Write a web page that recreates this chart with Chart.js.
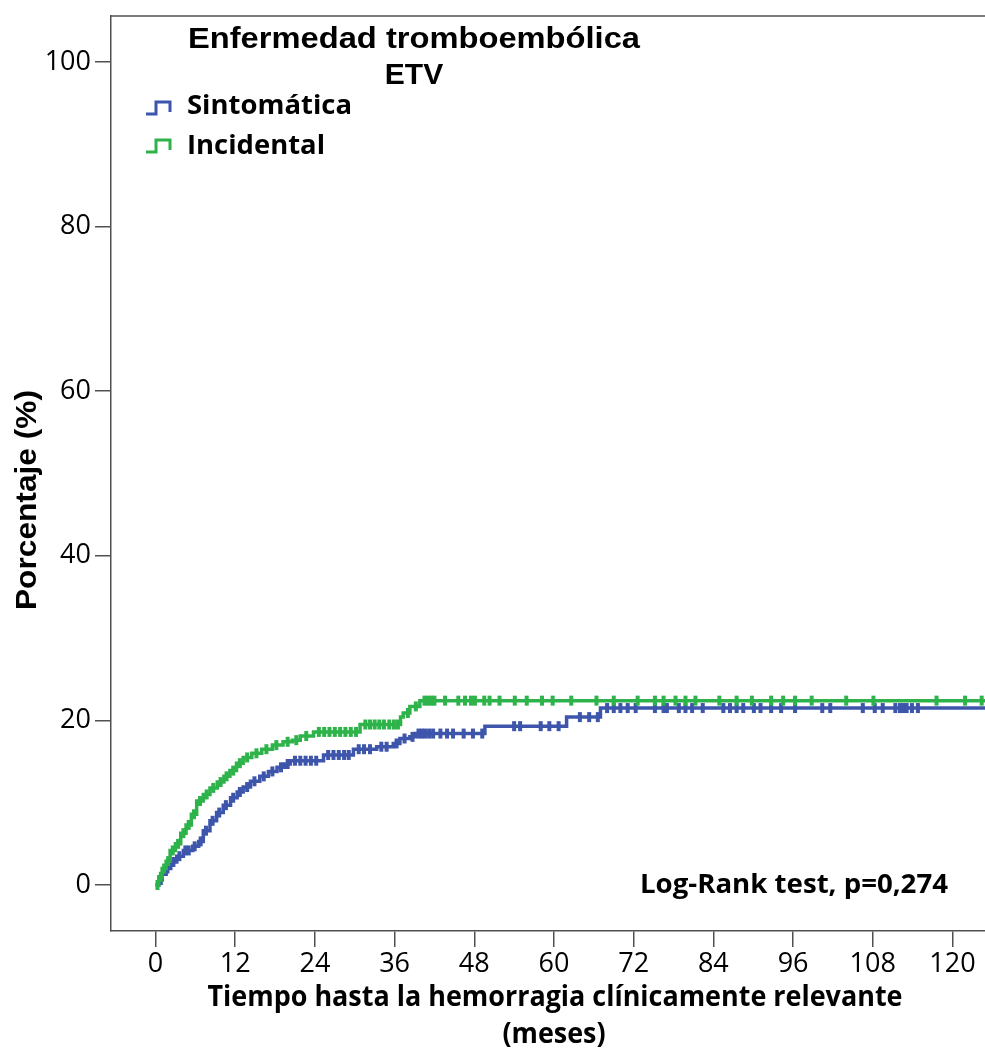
<!DOCTYPE html>
<html>
<head>
<meta charset="utf-8">
<script src="https://cdn.jsdelivr.net/npm/chart.js@4.4.1/dist/chart.umd.min.js"></script>
<style>
  html, body { margin: 0; padding: 0; background: #fff; }
</style>
</head>
<body>
<canvas id="kmChart" width="985" height="1053"></canvas>
<script>
// Cumulative incidence (%) of clinically relevant bleeding, by VTE presentation
const xTickValues = [0, 12, 24, 36, 48, 60, 72, 84, 96, 108, 120];
const yTickValues = [0, 20, 40, 60, 80, 100];

const incidentalTimes = [0, 0.5, 1.0, 1.6, 2.2, 3.0, 3.8, 4.6, 5.4, 6.2, 7.2, 8.2, 9.3, 10.3, 11.2, 12.2, 13.2, 14.5, 16.0, 17.6, 19.2, 20.6, 21.8, 23.8, 30.8, 36.9, 37.3, 38.3, 39.8, 126];
const incidentalPct   = [0, 1.0, 2.0, 2.9, 4.2, 5.0, 6.3, 7.3, 8.6, 10.2, 11.0, 11.8, 12.5, 13.2, 13.9, 14.8, 15.5, 16.0, 16.5, 17.0, 17.4, 17.6, 18.1, 18.6, 19.5, 20.4, 20.9, 21.7, 22.4, 22.4];
const incidentalCensored = [0.3, 0.8, 1.3, 1.9, 2.6, 3.4, 4.2, 5.0, 5.8, 6.7, 7.7, 8.7, 9.8, 10.7, 11.7, 12.7, 13.8, 15.2, 16.7, 18.2, 19.9, 21.2, 22.7, 24.6, 25.4, 26.2, 27.0, 27.8, 28.6, 29.4, 30.2, 31.6, 32.3, 33.0, 33.7, 34.4, 35.2, 35.9, 36.5, 38.0, 39.2, 40.5, 41.0, 41.5, 42.0, 43.6, 45.6, 46.6, 47.5, 48.1, 49.5, 50.3, 51.8, 54.1, 55.9, 58.2, 59.8, 62.6, 66.4, 69.0, 72.6, 75.2, 76.5, 78.3, 79.8, 81.3, 84.9, 87.5, 89.8, 92.7, 94.5, 96.3, 98.8, 104.0, 108.1, 117.6, 121.9, 124.4];

const symptomaticTimes = [0, 0.5, 1.0, 1.6, 2.3, 3.2, 4.2, 5.6, 6.5, 7.2, 8.2, 9.2, 10.2, 11.3, 12.3, 13.2, 14.3, 15.7, 17.0, 18.3, 19.4, 20.3, 25.3, 29.8, 33.3, 35.8, 36.8, 38.3, 39.1, 49.6, 61.9, 67.0, 126];
const symptomaticPct   = [0, 0.6, 1.3, 2.0, 2.8, 3.5, 4.2, 4.7, 5.3, 6.6, 7.8, 8.8, 9.7, 10.6, 11.3, 11.9, 12.6, 13.2, 13.8, 14.3, 14.7, 15.1, 15.8, 16.5, 16.8, 17.2, 17.8, 18.0, 18.4, 19.3, 20.4, 21.5, 21.5];
const symptomaticCensored = [0.8, 1.8, 2.7, 3.6, 4.5, 5.0, 5.9, 6.8, 7.6, 8.6, 9.6, 10.6, 11.7, 12.7, 13.8, 14.9, 16.3, 17.6, 18.9, 19.9, 21.0, 21.8, 22.6, 23.4, 24.2, 26.0, 26.8, 27.6, 28.4, 29.1, 30.6, 31.4, 32.3, 34.0, 34.8, 36.3, 37.5, 38.7, 39.6, 40.1, 40.6, 41.2, 41.8, 42.9, 43.9, 44.8, 46.4, 47.8, 49.2, 54.0, 54.9, 58.0, 59.3, 60.7, 63.9, 65.3, 66.6, 68.0, 69.0, 70.0, 71.1, 72.3, 75.2, 76.5, 77.0, 78.8, 79.8, 80.8, 82.4, 85.5, 86.5, 87.5, 88.5, 90.1, 91.1, 92.7, 94.2, 96.3, 100.4, 101.6, 106.5, 108.3, 109.5, 111.4, 112.1, 112.6, 113.1, 113.9, 114.8];

const BLUE = '#3d55aa';
const GREEN = '#2eb34b';
const AXIS = '#505050';

// value of the step curve at time t
function stepAt(times, pct, t) {
  let v = pct[0];
  for (let i = 0; i < times.length; i++) {
    if (times[i] <= t) v = pct[i]; else break;
  }
  return v;
}

const curve = (times, pct) => times.map((t, i) => ({ x: t, y: pct[i] }));
const marks = (cens, times, pct) => cens.map(t => ({ x: t, y: stepAt(times, pct, t) }));

function censorSet(data, color, order) {
  return {
    type: 'scatter',
    data: data,
    order: order,
    pointStyle: 'line',
    rotation: 90,
    radius: 5,
    hoverRadius: 5,
    borderWidth: 4,
    borderColor: color,
    backgroundColor: color
  };
}

function fitText(ctx, str, x, y, font, align, width) {
  ctx.font = font;
  const w = ctx.measureText(str).width;
  const k = width ? width / w : 1;
  ctx.save();
  ctx.translate(x, y);
  ctx.scale(k, 1);
  ctx.textAlign = align;
  ctx.textBaseline = 'middle';
  ctx.fillStyle = '#000';
  ctx.fillText(str, 0, 0);
  ctx.restore();
}

function stepIcon(ctx, x, y, color) {
  ctx.save();
  ctx.strokeStyle = color;
  ctx.lineWidth = 3;
  ctx.beginPath();
  ctx.moveTo(x, y + 6);
  ctx.lineTo(x + 10, y + 6);
  ctx.lineTo(x + 10, y - 6);
  ctx.lineTo(x + 24, y - 6);
  ctx.lineTo(x + 24, y + 4);
  ctx.stroke();
  ctx.restore();
}

const kmText = {
  id: 'kmText',
  afterDraw(chart) {
    const ctx = chart.ctx;
    const area = chart.chartArea;
    ctx.save();
    ctx.strokeStyle = AXIS;
    ctx.lineWidth = 1.5;
    ctx.beginPath();
    ctx.moveTo(area.left, area.top);
    ctx.lineTo(area.right, area.top);
    ctx.stroke();

    const arialB = 'bold 30px "Liberation Sans", Arial, sans-serif';
    const openB = 'bold 27px "Open Sans", sans-serif';

    fitText(ctx, 'Enfermedad tromboembólica', 414, 40, arialB, 'center', 452);
    fitText(ctx, 'ETV', 414, 76, arialB, 'center');

    stepIcon(ctx, 146, 108, BLUE);
    fitText(ctx, 'Sintomática', 187, 106, openB, 'left', 165);
    stepIcon(ctx, 146, 146, GREEN);
    fitText(ctx, 'Incidental', 187, 146, openB, 'left', 138);

    fitText(ctx, 'Log-Rank test, p=0,274', 948, 885, openB, 'right', 308);

    fitText(ctx, 'Tiempo hasta la hemorragia clínicamente relevante', 555, 998, 'bold 28px "Open Sans", sans-serif', 'center', 695);
    fitText(ctx, '(meses)', 554, 1035, 'bold 28px "Open Sans", sans-serif', 'center', 103);

    ctx.save();
    ctx.translate(28, 500);
    ctx.rotate(-Math.PI / 2);
    fitText(ctx, 'Porcentaje (%)', 0, 0, arialB, 'center', 220);
    ctx.restore();
    ctx.restore();
  }
};

const tickFont = { family: '"Open Sans", sans-serif', size: 27 };

new Chart(document.getElementById('kmChart').getContext('2d'), {
  type: 'line',
  data: {
    datasets: [
      censorSet(marks(incidentalCensored, incidentalTimes, incidentalPct), GREEN, 0),
      {
        label: 'Incidental',
        data: curve(incidentalTimes, incidentalPct),
        order: 1,
        stepped: true,
        borderColor: GREEN,
        borderWidth: 3.5,
        pointRadius: 0,
        fill: false
      },
      censorSet(marks(symptomaticCensored, symptomaticTimes, symptomaticPct), BLUE, 2),
      {
        label: 'Sintomática',
        data: curve(symptomaticTimes, symptomaticPct),
        order: 3,
        stepped: true,
        borderColor: BLUE,
        borderWidth: 3.5,
        pointRadius: 0,
        fill: false
      }
    ]
  },
  options: {
    responsive: false,
    animation: false,
    events: [],
    layout: { autoPadding: false, padding: { top: 16, right: 0, bottom: 0, left: 0 } },
    plugins: {
      legend: { display: false },
      tooltip: { enabled: false },
      title: { display: false }
    },
    scales: {
      x: {
        type: 'linear',
        min: -6.7,
        max: 124.9,
        afterBuildTicks: s => { s.ticks = xTickValues.map(v => ({ value: v })); },
        afterFit: s => { s.height = 122; s.paddingLeft = 0; s.paddingRight = 0; },
        ticks: { font: tickFont, color: '#000', padding: 1, maxRotation: 0, autoSkip: false },
        grid: { drawOnChartArea: false, tickLength: 16, color: AXIS, lineWidth: 1.5 },
        border: { color: AXIS, width: 1.5 }
      },
      y: {
        type: 'linear',
        min: -5.59,
        max: 105.59,
        afterBuildTicks: s => { s.ticks = yTickValues.map(v => ({ value: v })); },
        afterFit: s => { s.width = 111; s.paddingTop = 0; s.paddingBottom = 0; },
        ticks: { font: tickFont, color: '#000', padding: 4 },
        grid: { drawOnChartArea: false, tickLength: 16, color: AXIS, lineWidth: 1.5 },
        border: { color: AXIS, width: 1.5 }
      }
    }
  },
  plugins: [kmText]
});
</script>
</body>
</html>
